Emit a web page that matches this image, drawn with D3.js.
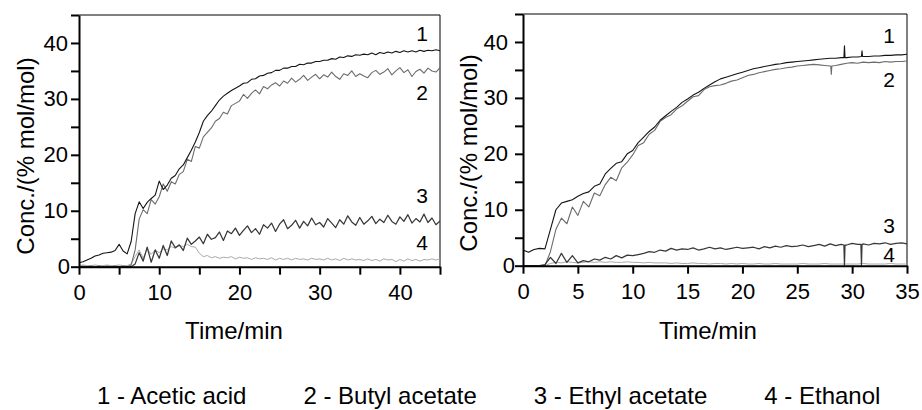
<!DOCTYPE html>
<html><head><meta charset="utf-8">
<script src="https://cdn.jsdelivr.net/npm/d3@7"></script>
<style>
body{margin:0;background:#fff}
svg{display:block}
text{font-family:"Liberation Sans",Arial,Helvetica,sans-serif;fill:#000}
</style>
</head><body>
<svg id="chart" width="922" height="410"></svg>
<script>
// ---------- data ----------
const seriesNames = ["Acetic acid", "Butyl acetate", "Ethyl acetate", "Ethanol"];
const seriesNumbers = ["1", "2", "3", "4"];
const yAxisTitle = "Conc./(% mol/mol)";
const xAxisTitle = "Time/min";

const leftStep = 0.5;   // minutes between samples, left panel (0..45)
const leftAcetic = [
0.7,0.9,1.2,1.5,1.9,2.1,2.4,2.5,2.6,2.9,
4.0,2.8,2.3,4.5,9.5,11.6,10.4,11.5,12.2,12.8,
15.3,13.8,14.6,15.8,16.3,17.5,18.2,19.5,20.8,22.3,
24.0,26.0,27.0,27.8,28.8,29.8,30.5,31.0,31.5,31.9,
32.3,32.8,32.9,33.5,33.6,34.1,34.2,34.6,34.7,35.1,
35.1,35.5,35.5,35.8,35.8,36.2,36.1,36.4,36.4,36.7,
36.7,36.9,36.9,37.2,37.1,37.5,37.4,37.7,37.6,37.9,
37.8,38.0,37.9,38.2,37.9,38.3,38.1,38.4,38.2,38.5,
38.3,38.6,38.4,38.6,38.4,38.7,38.5,38.7,38.6,38.8,
38.6];
const leftButyl = [
0,0.1,0,0.1,0,0.1,0,0.1,0,0.1,
0,0.1,0,0.3,3.0,8.5,10.2,9.5,12.0,11.2,
12.5,14.8,13.5,15.2,14.8,16.5,17.0,19.2,18.8,21.5,
21.2,23.2,24.0,24.8,26.0,26.5,27.6,27.3,28.8,29.2,
29.6,30.8,30.1,31.0,31.6,30.9,32.2,31.8,32.5,32.9,
32.3,33.2,32.8,33.7,33.0,33.5,34.2,33.3,33.9,34.4,
33.6,34.3,33.9,34.8,34.0,33.5,34.5,34.2,35.0,34.0,
34.5,34.1,33.8,34.7,35.1,34.4,34.8,35.4,34.3,35.0,
35.6,34.7,35.2,34.0,34.9,35.3,34.6,35.5,35.0,34.8,
35.6];
const leftEthyl = [
0,0,0,0,0,0,0,0,0,0,
0,0,0,0,0.5,2.5,1.0,3.5,0.8,3.0,
1.5,3.8,2.0,4.6,3.4,3.9,2.9,5.1,4.0,4.6,
5.3,4.1,5.8,4.9,5.2,6.2,4.7,6.4,5.9,6.9,
5.6,6.5,7.3,6.1,6.8,5.8,7.5,6.9,7.8,6.3,
7.6,8.4,6.8,7.4,8.3,6.9,8.1,7.3,8.7,7.5,
7.9,7.1,8.6,7.8,7.0,8.4,7.6,9.1,8.0,7.4,
8.8,7.6,8.2,9.0,7.7,8.5,7.9,9.2,8.1,7.6,
8.9,8.1,9.3,7.8,8.6,8.0,9.4,7.9,8.7,7.5,
8.2];
const leftEthanol = [
0.2,0.3,0.2,0.2,0.3,0.2,0.2,0.3,0.2,0.2,
0.3,0.2,0.2,0.5,1.8,3.0,1.5,3.2,2.2,3.0,
2.5,3.2,3.0,3.6,3.3,3.8,3.6,4.0,3.6,3.5,
2.4,1.8,2.0,1.6,1.8,1.5,1.7,1.6,1.8,1.4,
1.7,1.5,1.6,1.3,1.6,1.4,1.5,1.3,1.6,1.2,
1.5,1.3,1.5,1.2,1.5,1.3,1.4,1.2,1.5,1.3,
1.4,1.2,1.5,1.2,1.4,1.1,1.5,1.2,1.4,1.2,
1.3,1.1,1.4,1.1,1.3,1.0,1.4,1.2,1.3,0.9,
1.3,1.0,1.4,1.1,1.3,1.0,1.3,1.2,1.4,1.2,
1.4];

const rightStep = 0.5;  // minutes between samples, right panel (0..35)
const rightAcetic = [
2.8,2.4,2.9,3.1,3.0,6.5,10.0,11.2,11.5,11.8,
12.4,12.9,13.2,14.2,14.6,16.4,17.4,18.3,18.6,20.0,
20.6,22.0,23.0,24.0,24.8,26.0,26.8,27.6,28.3,29.2,
29.8,30.5,31.0,31.7,32.3,32.9,33.4,33.7,34.0,34.3,
34.6,34.9,35.2,35.4,35.6,35.8,36.0,36.1,36.3,36.4,
36.5,36.6,36.7,36.8,36.9,37.0,37.1,37.1,37.2,37.2,
37.3,37.3,37.4,37.4,37.5,37.5,37.6,37.6,37.7,37.7,
37.8];
const rightButyl = [
0,0,0,0,0,2.5,6.5,8.5,7.5,10.5,
9.0,11.5,10.5,13.0,12.5,14.5,15.8,15.2,17.5,18.5,
19.8,21.5,22.0,23.5,24.2,25.8,26.5,27.0,28.0,28.6,
29.4,30.2,30.4,31.5,32.0,32.2,32.3,32.6,33.0,33.2,
33.6,34.0,34.2,34.5,34.7,34.9,35.1,35.2,35.4,35.5,
35.7,35.8,35.9,36.0,35.9,35.8,35.7,35.8,36.0,36.2,
36.3,36.2,36.4,36.3,36.4,36.3,36.5,36.4,36.5,36.5,
36.6];
const rightEthyl = [
0,0,0,0,0.2,1.5,0.4,2.2,0.6,1.8,
0.5,0.9,0.7,1.2,1.0,1.5,1.2,1.8,1.4,1.9,
1.8,2.0,2.2,2.5,2.4,2.8,2.6,3.1,2.8,3.0,
2.9,3.2,2.8,3.0,3.3,3.0,3.2,2.9,3.1,3.3,
3.1,3.2,3.3,3.0,3.4,3.2,3.5,3.3,3.6,3.4,
3.5,3.7,3.4,3.6,3.8,3.5,3.9,3.6,3.8,3.7,
4.0,3.8,3.9,3.7,4.0,3.9,4.1,3.8,4.0,4.1,
3.9];
const rightEthanol = [
0,0,0,0,0,0.4,0.6,0.5,0.7,0.6,
0.5,0.6,0.7,0.6,0.7,0.6,0.7,0.6,0.6,0.7,
0.6,0.6,0.5,0.6,0.5,0.5,0.5,0.4,0.5,0.4,
0.4,0.5,0.4,0.4,0.3,0.4,0.4,0.3,0.4,0.3,
0.4,0.3,0.3,0.4,0.3,0.3,0.4,0.3,0.3,0.3,
0.3,0.4,0.3,0.3,0.3,0.4,0.3,0.3,0.3,0.3,
0.3,0.3,0.4,0.3,0.3,0.3,0.3,0.4,0.3,0.3,
0.3];
// short spikes in the right panel: [time, value]
const rightSpikesAcetic = [[29.25,37.2],[29.3,39.3],[29.35,37.2],[30.85,37.4],[30.9,38.4],[30.95,37.4]];
const rightSpikesButyl  = [[28.05,35.7],[28.1,34.2],[28.15,35.7]];
const rightSpikesEthyl  = [[29.25,3.7],[29.3,0.1],[29.35,3.7],[30.8,3.8],[30.85,0.1],[30.9,3.8]];
const rightSpikesEthanol = [];

const yTicks = [0,5,10,15,20,25,30,35,40,45];
const yTickLabels = [0,10,20,30,40];
const leftXTicks = [0,5,10,15,20,25,30,35,40,45];
const leftXTickLabels = [0,10,20,30,40];
const rightXTicks = [0,5,10,15,20,25,30,35];
const rightXTickLabels = [0,5,10,15,20,25,30,35];

// ---------- styling / layout ----------
const colors = ["#141414", "#6c6c6c", "#383838", "#a9a9a9"];
const widths = [1.1, 1.1, 1.25, 1.0];
const tickFont = 22, titleFont = 24, numFont = 21;

const svg = d3.select("#chart");

function toPoints(values, step, spikes) {
  const pts = values.map((v, i) => [i * step, v]);
  return pts.concat(spikes).sort((a, b) => a[0] - b[0]);
}

const panels = [
  { x0: 79, x1: 440, yTop: 15, yBot: 266.7, xMax: 45,
    xTicks: leftXTicks, xLabels: leftXTickLabels,
    series: [toPoints(leftAcetic, leftStep, []), toPoints(leftButyl, leftStep, []),
             toPoints(leftEthyl, leftStep, []), toPoints(leftEthanol, leftStep, [])],
    yLabPad: 3, zeroPad: 9, ytitleX: 34, ytitleY: 156, xtitleX: 234,
    numX: 428, numY: [40.4, 29.8, 11.4, 3.0] },
  { x0: 523, x1: 907, yTop: 14, yBot: 265.7, xMax: 35,
    xTicks: rightXTicks, xLabels: rightXTickLabels,
    series: [toPoints(rightAcetic, rightStep, rightSpikesAcetic), toPoints(rightButyl, rightStep, rightSpikesButyl),
             toPoints(rightEthyl, rightStep, rightSpikesEthyl), toPoints(rightEthanol, rightStep, rightSpikesEthanol)],
    yLabPad: 7, zeroPad: 8, ytitleX: 477, ytitleY: 153, xtitleX: 708,
    numX: 895, numY: [39.9, 32.0, 5.9, 0.7] }
];

panels.forEach(p => {
  const x = d3.scaleLinear().domain([0, p.xMax]).range([p.x0, p.x1]);
  const y = d3.scaleLinear().domain([0, 45]).range([p.yBot, p.yTop]);
  const g = svg.append("g");

  // frame (top/right thin)
  g.append("path")
    .attr("d", `M${p.x0},${p.yTop}H${p.x1}V${p.yBot}`)
    .attr("fill", "none").attr("stroke", "#000").attr("stroke-width", 1);

  // series lines
  const line = d3.line().x(d => x(d[0])).y(d => y(d[1]));
  [3, 1, 2, 0].forEach(i => {
    g.append("path").datum(p.series[i])
      .attr("d", line).attr("fill", "none")
      .attr("stroke", colors[i]).attr("stroke-width", widths[i])
      .attr("stroke-linejoin", "round");
  });

  // x axis
  const xa = g.append("g").attr("transform", `translate(0,${p.yBot})`)
    .call(d3.axisBottom(x).tickValues(p.xTicks).tickSize(8).tickSizeOuter(0).tickPadding(10)
      .tickFormat(d => p.xLabels.includes(d) ? d : ""));
  // y axis
  const ya = g.append("g").attr("transform", `translate(${p.x0},0)`)
    .call(d3.axisLeft(y).tickValues(yTicks).tickSize(8).tickSizeOuter(0).tickPadding(p.yLabPad)
      .tickFormat(d => yTickLabels.includes(d) ? d : ""));
  [xa, ya].forEach(a => {
    a.select(".domain").attr("stroke-width", 2).attr("stroke", "#000");
    a.selectAll(".tick line").attr("stroke-width", 2).attr("stroke", "#000");
    a.selectAll(".tick text").attr("font-size", tickFont)
      .style("font-family", '"Liberation Sans",Arial,sans-serif').attr("fill", "#000");
  });
  ya.selectAll(".tick text").filter(d => d === 0).attr("x", -p.zeroPad);

  // titles
  g.append("text").attr("transform", `translate(${p.ytitleX},${p.ytitleY}) rotate(-90)`)
    .attr("text-anchor", "middle").attr("font-size", titleFont).text(yAxisTitle);
  g.append("text").attr("x", p.xtitleX).attr("y", 339)
    .attr("text-anchor", "middle").attr("font-size", titleFont).text(xAxisTitle);

  // curve numbers
  seriesNumbers.forEach((n, i) => {
    g.append("text").attr("x", p.numX).attr("y", y(p.numY[i]))
      .attr("text-anchor", "end").attr("font-size", numFont).text(n);
  });
});

// legend
const legend = svg.append("g");
let lx = 97;
seriesNames.forEach((n, i) => {
  const t = legend.append("text").attr("x", lx).attr("y", 404)
    .attr("font-size", titleFont).text(`${seriesNumbers[i]} - ${n}`);
  lx += t.node().getComputedTextLength() + 57;
});
</script>
</body></html>
